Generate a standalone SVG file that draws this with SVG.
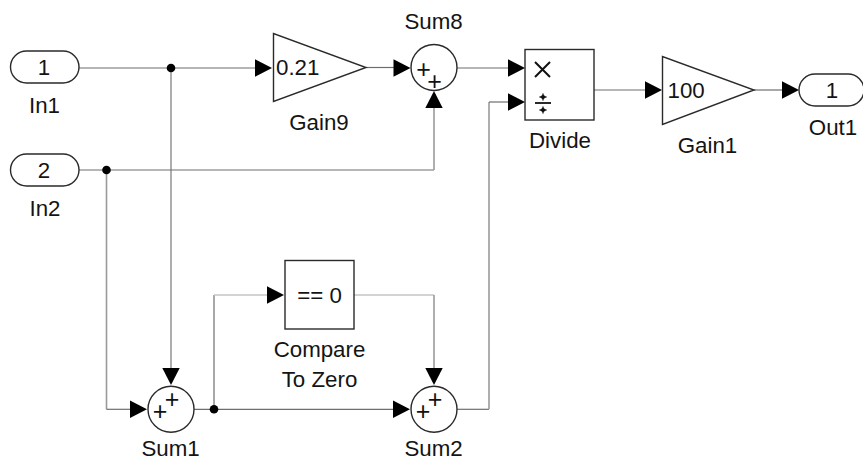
<svg xmlns="http://www.w3.org/2000/svg" width="863" height="460" viewBox="0 0 863 460">
<style>
.b{fill:#fff;stroke:#2a2a2a;stroke-width:1.4}
.t{font-family:"Liberation Sans",Arial,sans-serif;font-size:22.3px;fill:#141414;text-anchor:middle}
.g{text-anchor:start}
.s{font-family:"Liberation Sans",Arial,sans-serif;font-size:25px;fill:#111;text-anchor:middle}
.w{fill:none;stroke:#6e6e6e;stroke-width:1.2}
.v{fill:none;stroke:#9a9a9a;stroke-width:1.6}
.l{fill:none;stroke:#c4c4c4;stroke-width:1.4}
.a{fill:#000}
.d{fill:#000}
</style>
<defs>
<path id="ar" class="a" d="M-17-8.7L0 0L-17 8.7Z"/>
</defs>
<g id="connectors">
<path class="w" d="M79 68H256"/>
<path class="v" d="M171 68V370"/>
<path class="w" d="M366 67.5H395"/>
<path class="w" d="M79 170H434"/>
<path class="v" d="M434 170V108"/>
<path class="v" d="M106.500 170V409.300"/>
<path class="w" d="M106.500 409.300H130"/>
<path class="w" d="M457 68H509"/>
<path class="w" d="M594 90H645"/>
<path class="w" d="M754 90H782"/>
<path class="w" d="M194 409.300H394"/>
<path class="w" d="M214 409.300V295"/>
<path class="l" d="M214 295H268"/>
<path class="l" d="M354 295H434"/>
<path class="v" d="M434 295V370"/>
<path class="w" d="M457 409.300H489"/>
<path class="v" d="M489 409.300V102"/>
<path class="w" d="M489 102H509"/>
<use href="#ar" x="272" y="68"/>
<use href="#ar" x="410.500" y="68"/>
<use href="#ar" transform="translate(434 91) rotate(-90)"/>
<use href="#ar" x="525" y="68"/>
<use href="#ar" x="525" y="102"/>
<use href="#ar" x="662" y="90"/>
<use href="#ar" x="799" y="90"/>
<use href="#ar" x="147" y="409.300"/>
<use href="#ar" transform="translate(171 385) rotate(90)"/>
<use href="#ar" x="410" y="409.300"/>
<use href="#ar" transform="translate(434 385) rotate(90)"/>
<use href="#ar" x="284" y="295"/>
<circle class="d" cx="171" cy="68" r="4.300"/>
<circle class="d" cx="106.500" cy="170" r="4.300"/>
<circle class="d" cx="214" cy="409.300" r="4.300"/>
</g>
<g id="In1"><rect class="b" x="10.500" y="51" width="68.500" height="32" rx="16"/><text class="t" x="44" y="75">1</text><text class="t" x="44.500" y="112.500">In1</text></g>
<g id="In2"><rect class="b" x="10.500" y="154" width="68.500" height="32" rx="16"/><text class="t" x="44" y="178">2</text><text class="t" x="45" y="215.500">In2</text></g>
<g id="Gain9"><path class="b" d="M273.500 33.500V101.500L366 67.500Z"/><text class="t g" x="276" y="75">0.21</text><text class="t" x="319" y="129.500">Gain9</text></g>
<g id="Sum8"><circle class="b" cx="434" cy="67.500" r="23"/><text class="s" x="423.500" y="77.500">+<tspan x="434.500" y="89.500">+</tspan></text><text class="t" x="433.500" y="28.500">Sum8</text></g>
<g id="Divide"><rect class="b" x="525" y="49.500" width="69" height="70.500"/>
<path fill="none" stroke="#111" stroke-width="2" d="M535 62L550 77M550 62L535 77"/>
<path fill="none" stroke="#111" stroke-width="1.800" d="M535 103H551"/>
<circle class="d" cx="543" cy="97" r="2"/><circle class="d" cx="543" cy="110" r="2"/>
<path fill="none" stroke="#111" stroke-width="1.300" d="M539.500 97H546.500M543 93.500V100.500M539.500 110H546.500M543 106.500V113.500"/>
<text class="t" x="560" y="148">Divide</text></g>
<g id="Gain1"><path class="b" d="M662.500 56.500V124.500L754 90Z"/><text class="t g" x="667.500" y="97.500">100</text><text class="t" x="707.500" y="153">Gain1</text></g>
<g id="Out1"><rect class="b" x="799" y="74" width="65" height="32" rx="16"/><text class="t" x="832" y="98">1</text><text class="t" x="833" y="134.500">Out1</text></g>
<g id="Sum1"><circle class="b" cx="171" cy="409.300" r="23"/><text class="s" x="160" y="419.500">+<tspan x="172" y="407.500">+</tspan></text><text class="t" x="170.500" y="455.500">Sum1</text></g>
<g id="Sum2"><circle class="b" cx="434" cy="409.300" r="23"/><text class="s" x="423" y="419.500">+<tspan x="435" y="407.500">+</tspan></text><text class="t" x="433.500" y="455.500">Sum2</text></g>
<g id="CompareToZero"><rect class="b" x="285" y="260.500" width="69" height="68.500"/><text class="t" x="319.500" y="303">== 0</text><text class="t" x="319.500" y="357">Compare</text><text class="t" x="319.500" y="387">To Zero</text></g>
</svg>
